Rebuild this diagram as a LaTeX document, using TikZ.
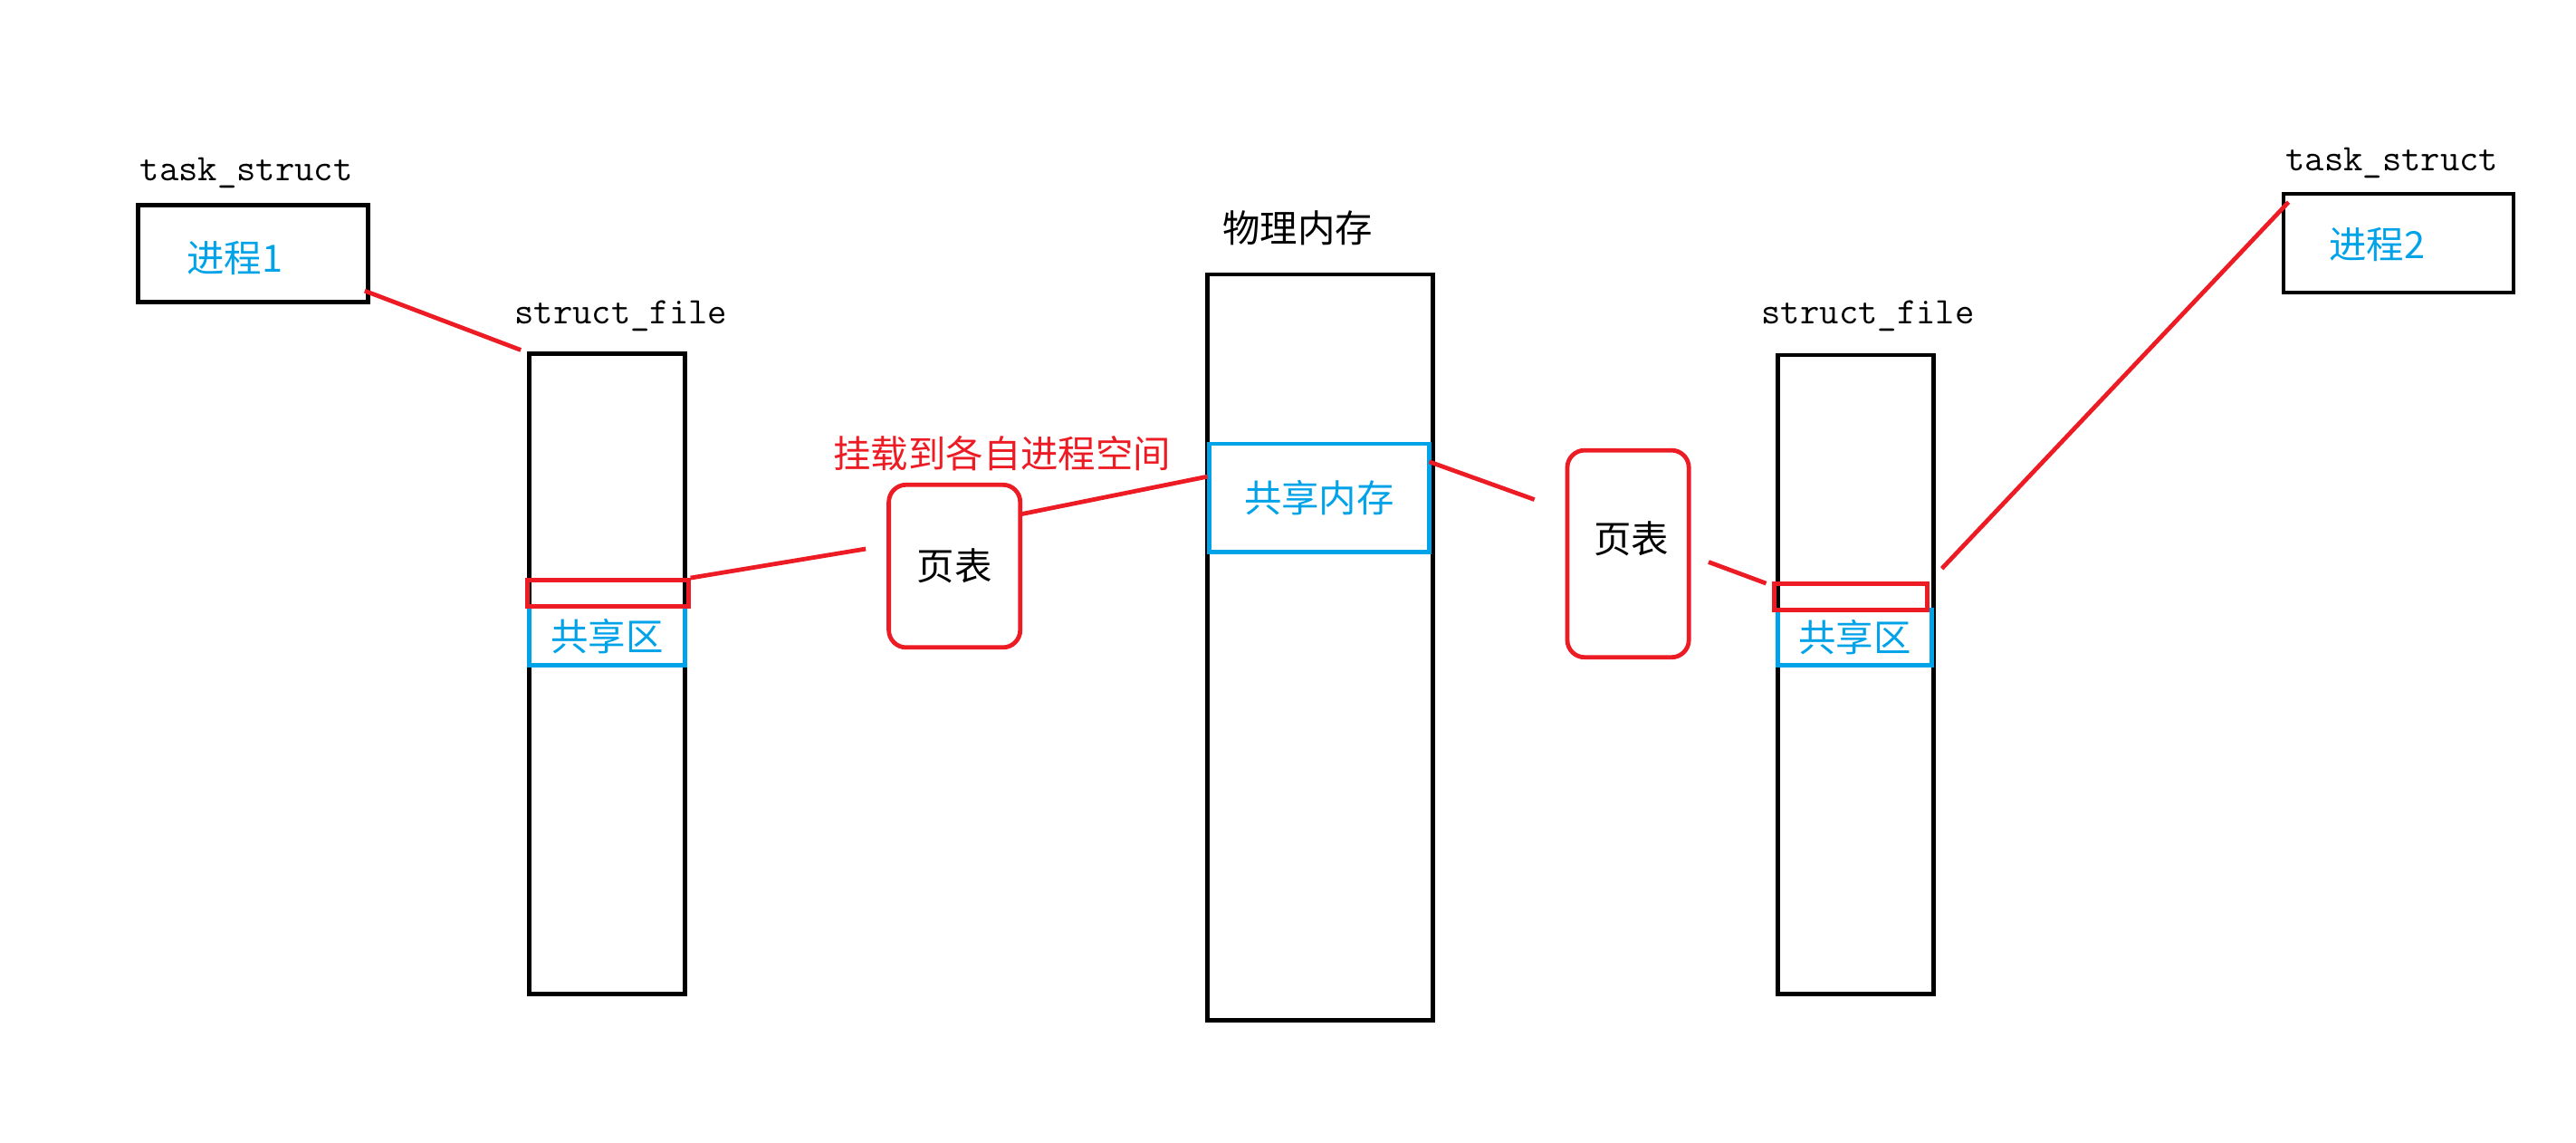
\documentclass[tikz,border=0pt]{standalone}
\usepackage{fontspec}
\newfontfamily\cjk{Noto Sans CJK SC}
\usetikzlibrary{positioning}
\definecolor{lineRed}{RGB}{237,28,36}
\definecolor{shareBlue}{RGB}{0,162,232}
\tikzset{
  blackbox/.style={draw=black, line width=1.5pt, inner sep=0pt},
  redbox/.style={draw=lineRed, line width=1.5pt, inner sep=0pt},
  bluebox/.style={draw=shareBlue, line width=1.5pt, inner sep=0pt, text=shareBlue, font=\cjk\fontsize{13}{15}\selectfont},
  pagebox/.style={draw=lineRed, line width=1.5pt, rounded corners=6pt, inner sep=0pt, font=\cjk\fontsize{13}{15}\selectfont},
  tag/.style={font=\ttfamily\fontsize{13}{15}\selectfont},
  link/.style={draw=lineRed, line width=1.5pt}
}
\begin{document}
\begin{tikzpicture}[x=0.02cm, y=-0.02cm]
  \useasboundingbox (0,0) rectangle (1568,695);
  % process 1
  \node[tag] (ts1) at (150,105) {task\_struct};
  \node[blackbox, minimum width=2.8cm, minimum height=1.18cm] (p1) at (154,154.5) {};
  \node[font=\cjk\fontsize{13}{15}\selectfont, text=shareBlue] at (143,157) {进程1};
  % struct_file left
  \node[tag] (sf1) at (378,192) {struct\_file};
  \node[blackbox, minimum width=1.9cm, minimum height=7.8cm] (f1) at (369.5,410) {};
  \node[bluebox, minimum width=1.9cm, minimum height=0.72cm] (sh1) at (369.5,387) {共享区};
  \node[redbox, minimum width=1.96cm, minimum height=0.32cm] (r1) at (370,361) {};
  % page table left
  \node[pagebox, minimum width=1.6cm, minimum height=1.98cm] (pt1) at (581,344.5) {页表};
  \node[font=\cjk\fontsize{13}{15}\selectfont, text=lineRed] (mount) at (610,276) {挂载到各自进程空间};
  % physical memory
  \node[font=\cjk\fontsize{13}{15}\selectfont] (pm) at (790,139) {物理内存};
  \node[blackbox, minimum width=2.74cm, minimum height=9.08cm] (mem) at (803.5,394) {};
  \node[bluebox, minimum width=2.68cm, minimum height=1.32cm] (shm) at (803,303) {共享内存};
  % page table right
  \node[pagebox, minimum width=1.48cm, minimum height=2.52cm] (pt2) at (991,337) {};
  \node[font=\cjk\fontsize{13}{15}\selectfont] at (993,328) {页表};
  % struct_file right
  \node[tag] (sf2) at (1137,192) {struct\_file};
  \node[blackbox, minimum width=1.9cm, minimum height=7.78cm] (f2) at (1129.5,410.5) {};
  \node[bluebox, minimum width=1.88cm, minimum height=0.68cm] (sh2) at (1129,388) {共享区};
  \node[redbox, minimum width=1.86cm, minimum height=0.32cm] (r2) at (1126.5,363) {};
  % process 2
  \node[tag] (ts2) at (1456,99) {task\_struct};
  \node[blackbox, minimum width=2.8cm, minimum height=1.2cm] (p2) at (1460,148) {};
  \node[font=\cjk\fontsize{13}{15}\selectfont, text=shareBlue] at (1447,149) {进程2};
  % links
  \coordinate (a1) at (222,177);  \coordinate (a2) at (317,213);
  \coordinate (b2) at (527,334);
  \coordinate (c1) at (621,313);  \coordinate (c2) at (735,290);
  \coordinate (d1) at (870,281);  \coordinate (d2) at (934,304);
  \coordinate (e1) at (1040,342); \coordinate (e2) at (1075,355);
  \coordinate (g1) at (1182,346); \coordinate (g2) at (1393,123);
  \draw[link] (a1) -- (a2);
  \draw[link] (r1.north east) -- (b2);
  \draw[link] (c1) -- (c2);
  \draw[link] (d1) -- (d2);
  \draw[link] (e1) -- (e2);
  \draw[link] (g1) -- (g2);
\end{tikzpicture}
\end{document}
